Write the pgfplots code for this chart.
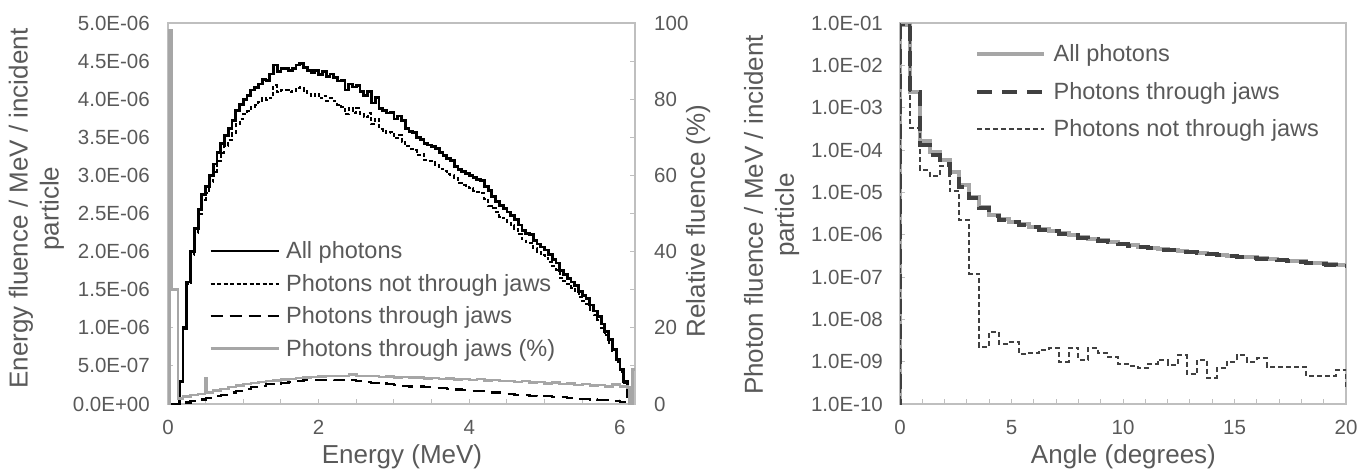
\documentclass[border=0pt]{standalone}
\usepackage{pgfplots}
\pgfplotsset{compat=1.18}
\usepackage{fontspec}
\setmainfont{Liberation Sans}
\definecolor{txt}{RGB}{89,89,89}
\definecolor{spine}{RGB}{191,191,191}
\definecolor{lgray}{RGB}{166,166,166}
\definecolor{dgray}{RGB}{64,64,64}
\newcommand{\tickfont}{\fontsize{20.5}{24}\selectfont}
\newcommand{\labfont}{\fontsize{26}{31}\selectfont}
\newcommand{\legfont}{\fontsize{23.5}{27}\selectfont}
\newcommand{\rl}[1]{\makebox[38pt][l]{#1}}
\pgfplotsset{
  base/.style={
    scale only axis, height=381pt,
    /pgf/number format/assume math mode=true,
    axis line style={spine, line width=1.3pt},
    tick align=inside,
    tick style={spine, line width=1pt},
    major tick length=5pt, minor tick length=5pt,
    tick label style={font=\tickfont, text=txt, inner sep=0pt},
    label style={font=\labfont, text=txt},
    clip=true,
  },
}
\begin{document}
\begin{tikzpicture}
\useasboundingbox (0pt,0pt) rectangle (1359pt,472pt);
% ---------------- left panel, primary axis ----------------
\begin{axis}[base,
  at={(168pt,68pt)}, anchor=south west, width=467pt,
  xmin=0, xmax=6.2, ymin=0, ymax=5,
  xtick={0,2,4,6}, minor xtick={0.5,1,1.5,2.5,3,3.5,4.5,5,5.5},
  ytick={0,0.5,1,1.5,2,2.5,3,3.5,4,4.5,5},
  yticklabels={0.0E+00,5.0E-07,1.0E-06,1.5E-06,2.0E-06,2.5E-06,3.0E-06,3.5E-06,4.0E-06,4.5E-06,5.0E-06},
  xtick pos=bottom, ytick pos=left,
  xticklabel style={anchor=north, yshift=-16pt},
  yticklabel style={anchor=east, xshift=-18pt},
  xlabel={Energy (MeV)},
  xlabel style={at={(axis description cs:0.501,-0.139)}, anchor=center},
  ylabel={Energy fluence / MeV / incident\\particle},
  ylabel style={align=center, at={(axis description cs:-0.282,0.513)}, anchor=center},
  legend cell align=left,
  legend style={draw=none, fill=none, font=\legfont, text=txt, inner sep=0pt,
    nodes={inner sep=1pt}, row sep=12pt, column sep=5pt,
    at={(axis description cs:0.088,0.429)}, anchor=north west},
  legend image code/.code={\draw[#1] (0pt,0pt) -- (68pt,0pt); \path (0pt,-6pt);},
]
\addplot[const plot, black, line width=2.8pt] coordinates {
(0,0)(0.15,0.3)(0.2,1.0)(0.25,1.6)(0.3,2.0)(0.35,2.3)(0.4,2.55)(0.45,2.75)(0.5,2.85)(0.55,3.0)(0.6,3.15)(0.65,3.3)(0.7,3.42)(0.75,3.52)(0.8,3.62)(0.85,3.72)(0.9,3.85)(0.95,3.93)(1.0,4.0)(1.05,4.05)(1.1,4.12)(1.15,4.15)(1.2,4.2)(1.25,4.26)(1.3,4.25)(1.35,4.33)(1.4,4.45)(1.45,4.36)(1.5,4.4)(1.55,4.4)(1.6,4.38)(1.65,4.4)(1.7,4.45)(1.75,4.47)(1.8,4.42)(1.85,4.38)(1.9,4.35)(1.95,4.38)(2.0,4.32)(2.05,4.36)(2.1,4.3)(2.15,4.33)(2.2,4.28)(2.25,4.24)(2.3,4.25)(2.35,4.12)(2.4,4.2)(2.45,4.16)(2.5,4.18)(2.55,4.1)(2.6,4.05)(2.65,4.1)(2.7,3.95)(2.75,4.02)(2.8,3.88)(2.85,3.85)(2.9,3.82)(2.95,3.83)(3.0,3.74)(3.05,3.78)(3.1,3.72)(3.15,3.62)(3.2,3.58)(3.25,3.56)(3.3,3.5)(3.35,3.47)(3.4,3.42)(3.45,3.4)(3.5,3.38)(3.55,3.35)(3.6,3.3)(3.65,3.26)(3.7,3.22)(3.75,3.2)(3.8,3.12)(3.85,3.08)(3.9,3.05)(3.95,3.02)(4.0,3.0)(4.05,2.97)(4.1,2.95)(4.15,2.93)(4.2,2.85)(4.25,2.8)(4.3,2.72)(4.35,2.66)(4.4,2.6)(4.45,2.57)(4.5,2.52)(4.55,2.47)(4.6,2.42)(4.65,2.35)(4.7,2.28)(4.75,2.24)(4.8,2.22)(4.85,2.15)(4.9,2.1)(4.95,2.06)(5.0,2.02)(5.05,1.96)(5.1,1.9)(5.15,1.85)(5.2,1.75)(5.25,1.7)(5.3,1.65)(5.35,1.6)(5.4,1.55)(5.45,1.48)(5.5,1.42)(5.55,1.38)(5.6,1.3)(5.65,1.22)(5.7,1.15)(5.75,1.05)(5.8,0.95)(5.85,0.85)(5.9,0.72)(5.95,0.58)(6.0,0.45)(6.05,0.3)(6.1,0.1)(6.15,0)(6.2,0)
};
\addlegendentry{All photons}
\addplot[const plot, black, line width=2pt, dash pattern=on 4pt off 2.5pt] coordinates {
(0,0)(0.15,0.3)(0.2,0.98)(0.25,1.57)(0.3,1.96)(0.35,2.25)(0.4,2.49)(0.45,2.68)(0.5,2.77)(0.55,2.91)(0.6,3.05)(0.65,3.19)(0.7,3.3)(0.75,3.39)(0.8,3.47)(0.85,3.56)(0.9,3.68)(0.95,3.74)(1.0,3.8)(1.05,3.84)(1.1,3.9)(1.15,3.92)(1.2,3.96)(1.25,4.01)(1.3,3.99)(1.35,4.02)(1.4,4.18)(1.45,4.09)(1.5,4.12)(1.55,4.115)(1.6,4.09)(1.65,4.105)(1.7,4.15)(1.75,4.165)(1.8,4.11)(1.85,4.07)(1.9,4.04)(1.95,4.07)(2.0,4.01)(2.05,4.045)(2.1,3.98)(2.15,4.015)(2.2,3.97)(2.25,3.93)(2.3,3.9)(2.35,3.8)(2.4,3.88)(2.45,3.82)(2.5,3.88)(2.55,3.8)(2.6,3.76)(2.65,3.815)(2.7,3.67)(2.75,3.745)(2.8,3.61)(2.85,3.585)(2.9,3.56)(2.95,3.575)(3.0,3.49)(3.05,3.535)(3.1,3.44)(3.15,3.385)(3.2,3.35)(3.25,3.33)(3.3,3.27)(3.35,3.28)(3.4,3.2)(3.45,3.185)(3.5,3.17)(3.55,3.14)(3.6,3.09)(3.65,3.055)(3.7,3.02)(3.75,3.005)(3.8,2.96)(3.85,2.895)(3.9,2.87)(3.95,2.845)(4.0,2.83)(4.05,2.8)(4.1,2.78)(4.15,2.765)(4.2,2.69)(4.25,2.6)(4.3,2.57)(4.35,2.515)(4.4,2.46)(4.45,2.435)(4.5,2.39)(4.55,2.345)(4.6,2.3)(4.65,2.23)(4.7,2.16)(4.75,2.125)(4.8,2.11)(4.85,2.045)(4.9,2.0)(4.95,1.96)(5.0,1.92)(5.05,1.865)(5.1,1.81)(5.15,1.76)(5.2,1.66)(5.25,1.615)(5.3,1.57)(5.35,1.525)(5.4,1.48)(5.45,1.41)(5.5,1.35)(5.55,1.315)(5.6,1.24)(5.65,1.165)(5.7,1.1)(5.75,1.0)(5.8,0.9)(5.85,0.805)(5.9,0.68)(5.95,0.545)(6.0,0.42)(6.05,0.28)(6.1,0.09)(6.15,0)(6.2,0)
};
\addlegendentry{Photons not through jaws}
\addplot[const plot, black, line width=2.2pt, dash pattern=on 12pt off 7pt] coordinates {
(0,0)(0.15,0)(0.2,0.02)(0.3,0.04)(0.4,0.06)(0.5,0.08)(0.6,0.1)(0.7,0.12)(0.8,0.15)(0.9,0.17)(1.0,0.2)(1.1,0.22)(1.2,0.24)(1.3,0.26)(1.4,0.27)(1.5,0.28)(1.6,0.29)(1.7,0.3)(1.8,0.31)(1.9,0.31)(2.0,0.31)(2.1,0.32)(2.2,0.31)(2.3,0.31)(2.4,0.32)(2.5,0.3)(2.6,0.29)(2.7,0.28)(2.8,0.27)(2.9,0.26)(3.0,0.25)(3.1,0.24)(3.2,0.23)(3.3,0.23)(3.4,0.22)(3.5,0.21)(3.6,0.21)(3.7,0.2)(3.8,0.19)(3.9,0.18)(4.0,0.17)(4.1,0.17)(4.2,0.16)(4.3,0.15)(4.4,0.14)(4.5,0.13)(4.6,0.12)(4.7,0.12)(4.8,0.11)(4.9,0.1)(5.0,0.1)(5.1,0.09)(5.2,0.09)(5.3,0.08)(5.4,0.07)(5.5,0.07)(5.6,0.06)(5.7,0.05)(5.8,0.05)(5.9,0.04)(6.0,0.03)(6.1,0.01)(6.15,0)(6.2,0)
};
\addlegendentry{Photons through jaws}
\addlegendimage{lgray, line width=2.5pt}
\addlegendentry{Photons through jaws (\%)}
\end{axis}
% ---------------- left panel, secondary axis ----------------
\begin{axis}[base,
  at={(168pt,68pt)}, anchor=south west, width=467pt,
  xmin=0, xmax=6.2, ymin=0, ymax=100,
  axis x line=none, axis y line*=right,
  ytick={0,20,40,60,80,100}, minor ytick={10,30,50,70,90},
  yticklabels={\rl{0},\rl{20},\rl{40},\rl{60},\rl{80},\rl{100}},
  yticklabel style={anchor=west, xshift=19pt},
  ylabel={Relative fluence (\%)},
  ylabel style={at={(axis description cs:1.135,0.48)}, anchor=center},
]
\addplot[const plot, lgray, line width=2.5pt] coordinates {
(0,0)(0.02,98)(0.045,30)(0.13,1.5)(0.2,2.0)(0.3,2.3)(0.4,2.6)(0.49,6.8)(0.52,3.0)(0.6,3.5)(0.7,4.0)(0.8,4.4)(0.9,4.8)(1.0,5.2)(1.1,5.5)(1.2,5.8)(1.3,6.0)(1.4,6.2)(1.5,6.4)(1.6,6.6)(1.7,6.8)(1.8,7.0)(1.9,7.1)(2.0,7.2)(2.1,7.3)(2.2,7.4)(2.3,7.3)(2.4,7.7)(2.5,7.4)(2.6,7.3)(2.7,7.4)(2.8,7.1)(2.9,7.2)(3.0,7.0)(3.1,7.1)(3.2,6.9)(3.3,7.0)(3.4,6.7)(3.5,6.8)(3.6,6.6)(3.7,6.7)(3.8,6.4)(3.9,6.6)(4.0,6.3)(4.1,6.5)(4.2,6.2)(4.3,6.3)(4.4,6.0)(4.5,6.1)(4.6,5.8)(4.7,6.0)(4.8,5.6)(4.9,5.8)(5.0,5.4)(5.1,5.6)(5.2,5.2)(5.3,5.4)(5.4,5.0)(5.5,5.2)(5.6,4.8)(5.7,5.0)(5.8,4.6)(5.9,5.1)(6.0,4.6)(6.1,4.3)(6.13,0)(6.17,9)(6.2,9)
};
\end{axis}
% ---------------- right panel ----------------
\begin{axis}[base,
  at={(900pt,68pt)}, anchor=south west, width=446pt,
  ymode=log, log basis y=10,
  xmin=0, xmax=20, ymin=1e-10, ymax=1e-1,
  xtick={0,5,10,15,20}, minor xtick={1,2,3,4,6,7,8,9,11,12,13,14,16,17,18,19},
  ytick={1e-10,1e-9,1e-8,1e-7,1e-6,1e-5,1e-4,1e-3,1e-2,1e-1},
  yticklabels={1.0E-10,1.0E-09,1.0E-08,1.0E-07,1.0E-06,1.0E-05,1.0E-04,1.0E-03,1.0E-02,1.0E-01},
  xtick pos=bottom, ytick pos=left,
  xticklabel style={anchor=north, yshift=-16pt},
  yticklabel style={anchor=east, xshift=-17pt},
  xlabel={Angle (degrees)},
  xlabel style={at={(axis description cs:0.501,-0.139)}, anchor=center},
  ylabel={Photon fluence / MeV / incident\\particle},
  ylabel style={align=center, at={(axis description cs:-0.288,0.496)}, anchor=center},
  legend cell align=left,
  legend style={draw=none, fill=none, font=\legfont, text=txt, inner sep=0pt,
    nodes={inner sep=1pt}, row sep=17pt, column sep=6.5pt,
    at={(axis description cs:0.168,0.946)}, anchor=north west},
  legend image code/.code={\draw[#1] (0pt,0pt) -- (67pt,0pt); \path (0pt,-6pt);},
]
\addplot[const plot, lgray, line width=4pt] coordinates {
(0,1e-12)(0,0.09)(0.444,2.4e-3)(0.889,1.6e-4)(1.333,9.1e-5)(1.778,5.8e-5)(2.222,3.1e-5)(2.667,1.5e-5)(3.111,7.9e-6)(3.556,4.6e-6)(4.0,2.9e-6)(4.444,2.3e-6)(4.889,2.0e-6)(5.333,1.75e-6)(5.778,1.55e-6)(6.222,1.38e-6)(6.667,1.22e-6)(7.111,1.08e-6)(7.556,9.7e-7)(8.0,8.8e-7)(8.444,8.0e-7)(8.889,7.3e-7)(9.333,6.7e-7)(9.778,6.1e-7)(10.222,5.6e-7)(10.667,5.2e-7)(11.111,4.9e-7)(11.556,4.6e-7)(12.0,4.35e-7)(12.444,4.1e-7)(12.889,3.9e-7)(13.333,3.7e-7)(13.778,3.5e-7)(14.222,3.35e-7)(14.667,3.2e-7)(15.111,3.05e-7)(15.556,2.9e-7)(16.0,2.78e-7)(16.444,2.66e-7)(16.889,2.55e-7)(17.333,2.44e-7)(17.778,2.33e-7)(18.222,2.2e-7)(18.667,2.1e-7)(19.111,2.0e-7)(19.556,1.88e-7)(20,1.88e-7)
};
\addlegendentry{All photons}
\addplot[const plot, dgray, line width=4pt, dash pattern=on 15pt off 10pt] coordinates {
(0,1e-12)(0,0.09)(0.444,2.3e-3)(0.889,1.3e-4)(1.333,7.5e-5)(1.778,4.6e-5)(2.222,2.6e-5)(2.667,1.35e-5)(3.111,7.4e-6)(3.556,4.3e-6)(4.0,2.8e-6)(4.444,2.2e-6)(4.889,1.95e-6)(5.333,1.7e-6)(5.778,1.5e-6)(6.222,1.32e-6)(6.667,1.2e-6)(7.111,1.04e-6)(7.556,9.6e-7)(8.0,8.5e-7)(8.444,7.9e-7)(8.889,7.1e-7)(9.333,6.6e-7)(9.778,5.9e-7)(10.222,5.5e-7)(10.667,5.0e-7)(11.111,4.8e-7)(11.556,4.45e-7)(12.0,4.3e-7)(12.444,3.95e-7)(12.889,3.85e-7)(13.333,3.6e-7)(13.778,3.45e-7)(14.222,3.25e-7)(14.667,3.15e-7)(15.111,2.95e-7)(15.556,2.85e-7)(16.0,2.7e-7)(16.444,2.62e-7)(16.889,2.48e-7)(17.333,2.4e-7)(17.778,2.27e-7)(18.222,2.17e-7)(18.667,2.05e-7)(19.111,1.97e-7)(19.556,1.84e-7)(20,1.84e-7)
};
\addlegendentry{Photons through jaws}
\addplot[const plot, dgray, line width=2pt, dash pattern=on 5pt off 3pt] coordinates {
(0,1e-12)(0,0.09)(0.444,3.3e-4)(0.889,3.4e-5)(1.333,2.4e-5)(1.778,4.1e-5)(2.222,1.05e-5)(2.667,2.2e-6)(3.111,1.2e-7)(3.556,2.2e-9)(4.0,5.0e-9)(4.444,2.6e-9)(4.889,2.9e-9)(5.333,1.5e-9)(5.778,1.6e-9)(6.222,1.9e-9)(6.667,2.1e-9)(7.111,1.0e-9)(7.556,2.1e-9)(8.0,1.1e-9)(8.444,2.1e-9)(8.889,1.6e-9)(9.333,1.3e-9)(9.778,9e-10)(10.222,8e-10)(10.667,7e-10)(11.111,9e-10)(11.556,1.1e-9)(12.0,8.5e-10)(12.444,1.4e-9)(12.889,5e-10)(13.333,1.1e-9)(13.778,4.2e-10)(14.222,7e-10)(14.667,1.0e-9)(15.111,1.4e-9)(15.556,1.0e-9)(16.0,1.2e-9)(16.444,7.5e-10)(16.889,7.5e-10)(17.333,7.5e-10)(17.778,7.5e-10)(18.222,4.6e-10)(18.667,4.6e-10)(19.111,4.6e-10)(19.556,6.5e-10)(20,2.5e-10)
};
\addlegendentry{Photons not through jaws}
\end{axis}
\end{tikzpicture}
\end{document}
